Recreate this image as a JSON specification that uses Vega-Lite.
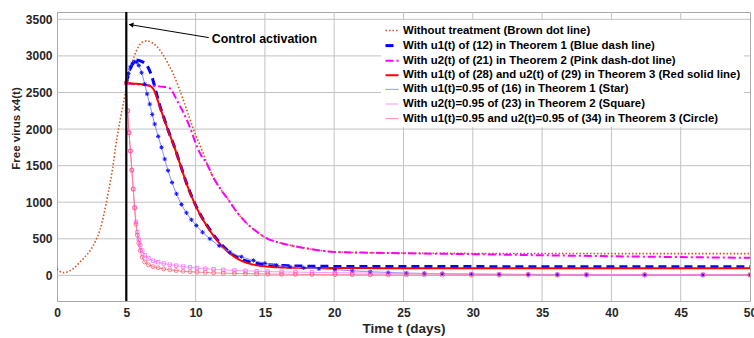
{
  "$schema": "https://vega.github.io/schema/vega-lite/v6.json",
  "width": 693,
  "height": 289,
  "autosize": {"type": "none"},
  "padding": {"left": 57, "top": 12, "right": 4, "bottom": 37},
  "background": "white",
  "data": {"values": [
    {"s":"Without treatment (Brown dot line)","t":0,"v":90},{"s":"Without treatment (Brown dot line)","t":0.2,"v":55},{"s":"Without treatment (Brown dot line)","t":0.45,"v":38},{"s":"Without treatment (Brown dot line)","t":0.8,"v":52},{"s":"Without treatment (Brown dot line)","t":1.2,"v":95},{"s":"Without treatment (Brown dot line)","t":1.6,"v":170},{"s":"Without treatment (Brown dot line)","t":2.0,"v":250},{"s":"Without treatment (Brown dot line)","t":2.4,"v":340},{"s":"Without treatment (Brown dot line)","t":2.8,"v":480},{"s":"Without treatment (Brown dot line)","t":3.1,"v":620},{"s":"Without treatment (Brown dot line)","t":3.4,"v":850},{"s":"Without treatment (Brown dot line)","t":3.7,"v":1130},{"s":"Without treatment (Brown dot line)","t":4.0,"v":1450},{"s":"Without treatment (Brown dot line)","t":4.3,"v":1850},{"s":"Without treatment (Brown dot line)","t":4.55,"v":2120},{"s":"Without treatment (Brown dot line)","t":4.8,"v":2360},{"s":"Without treatment (Brown dot line)","t":5.0,"v":2560},{"s":"Without treatment (Brown dot line)","t":5.2,"v":2740},{"s":"Without treatment (Brown dot line)","t":5.4,"v":2890},{"s":"Without treatment (Brown dot line)","t":5.7,"v":3060},{"s":"Without treatment (Brown dot line)","t":6.0,"v":3160},{"s":"Without treatment (Brown dot line)","t":6.3,"v":3200},{"s":"Without treatment (Brown dot line)","t":6.5,"v":3205},{"s":"Without treatment (Brown dot line)","t":6.8,"v":3185},{"s":"Without treatment (Brown dot line)","t":7.2,"v":3130},{"s":"Without treatment (Brown dot line)","t":7.6,"v":3030},{"s":"Without treatment (Brown dot line)","t":8.0,"v":2900},{"s":"Without treatment (Brown dot line)","t":8.4,"v":2750},{"s":"Without treatment (Brown dot line)","t":8.8,"v":2560},{"s":"Without treatment (Brown dot line)","t":9.2,"v":2350},{"s":"Without treatment (Brown dot line)","t":9.6,"v":2130},{"s":"Without treatment (Brown dot line)","t":10.0,"v":1920},{"s":"Without treatment (Brown dot line)","t":10.4,"v":1740},{"s":"Without treatment (Brown dot line)","t":10.8,"v":1540},{"s":"Without treatment (Brown dot line)","t":11.3,"v":1330},{"s":"Without treatment (Brown dot line)","t":11.8,"v":1180},{"s":"Without treatment (Brown dot line)","t":12.3,"v":1050},{"s":"Without treatment (Brown dot line)","t":13.0,"v":860},{"s":"Without treatment (Brown dot line)","t":13.7,"v":710},{"s":"Without treatment (Brown dot line)","t":14.4,"v":600},{"s":"Without treatment (Brown dot line)","t":15.1,"v":510},{"s":"Without treatment (Brown dot line)","t":16,"v":450},{"s":"Without treatment (Brown dot line)","t":17,"v":405},{"s":"Without treatment (Brown dot line)","t":18,"v":370},{"s":"Without treatment (Brown dot line)","t":19,"v":340},{"s":"Without treatment (Brown dot line)","t":20,"v":322},{"s":"Without treatment (Brown dot line)","t":22,"v":310},{"s":"Without treatment (Brown dot line)","t":25,"v":305},{"s":"Without treatment (Brown dot line)","t":30,"v":300},{"s":"Without treatment (Brown dot line)","t":35,"v":299},{"s":"Without treatment (Brown dot line)","t":40,"v":298},{"s":"Without treatment (Brown dot line)","t":45,"v":297},{"s":"Without treatment (Brown dot line)","t":50,"v":297},

    {"s":"With u1(t) of (12) in Theorem 1 (Blue dash line)","t":5.0,"v":2630},{"s":"With u1(t) of (12) in Theorem 1 (Blue dash line)","t":5.2,"v":2780},{"s":"With u1(t) of (12) in Theorem 1 (Blue dash line)","t":5.45,"v":2890},{"s":"With u1(t) of (12) in Theorem 1 (Blue dash line)","t":5.75,"v":2945},{"s":"With u1(t) of (12) in Theorem 1 (Blue dash line)","t":6.1,"v":2925},{"s":"With u1(t) of (12) in Theorem 1 (Blue dash line)","t":6.45,"v":2880},{"s":"With u1(t) of (12) in Theorem 1 (Blue dash line)","t":6.7,"v":2790},{"s":"With u1(t) of (12) in Theorem 1 (Blue dash line)","t":6.95,"v":2650},{"s":"With u1(t) of (12) in Theorem 1 (Blue dash line)","t":7.2,"v":2470},{"s":"With u1(t) of (12) in Theorem 1 (Blue dash line)","t":7.5,"v":2270},{"s":"With u1(t) of (12) in Theorem 1 (Blue dash line)","t":7.7,"v":2160},{"s":"With u1(t) of (12) in Theorem 1 (Blue dash line)","t":8.0,"v":1995},{"s":"With u1(t) of (12) in Theorem 1 (Blue dash line)","t":8.4,"v":1795},{"s":"With u1(t) of (12) in Theorem 1 (Blue dash line)","t":8.9,"v":1515},{"s":"With u1(t) of (12) in Theorem 1 (Blue dash line)","t":9.3,"v":1285},{"s":"With u1(t) of (12) in Theorem 1 (Blue dash line)","t":9.8,"v":1045},{"s":"With u1(t) of (12) in Theorem 1 (Blue dash line)","t":10.3,"v":845},{"s":"With u1(t) of (12) in Theorem 1 (Blue dash line)","t":10.8,"v":690},{"s":"With u1(t) of (12) in Theorem 1 (Blue dash line)","t":11.5,"v":502},{"s":"With u1(t) of (12) in Theorem 1 (Blue dash line)","t":12.2,"v":360},{"s":"With u1(t) of (12) in Theorem 1 (Blue dash line)","t":12.95,"v":252},{"s":"With u1(t) of (12) in Theorem 1 (Blue dash line)","t":13.9,"v":185},{"s":"With u1(t) of (12) in Theorem 1 (Blue dash line)","t":15.1,"v":148},{"s":"With u1(t) of (12) in Theorem 1 (Blue dash line)","t":16.6,"v":132},{"s":"With u1(t) of (12) in Theorem 1 (Blue dash line)","t":18,"v":126},{"s":"With u1(t) of (12) in Theorem 1 (Blue dash line)","t":20,"v":123},{"s":"With u1(t) of (12) in Theorem 1 (Blue dash line)","t":25,"v":121},{"s":"With u1(t) of (12) in Theorem 1 (Blue dash line)","t":30,"v":120},{"s":"With u1(t) of (12) in Theorem 1 (Blue dash line)","t":40,"v":119},{"s":"With u1(t) of (12) in Theorem 1 (Blue dash line)","t":50,"v":118},

    {"s":"With u2(t) of (21) in Theorem 2 (Pink dash-dot line)","t":5.0,"v":2625},{"s":"With u2(t) of (21) in Theorem 2 (Pink dash-dot line)","t":5.5,"v":2615},{"s":"With u2(t) of (21) in Theorem 2 (Pink dash-dot line)","t":6.0,"v":2608},{"s":"With u2(t) of (21) in Theorem 2 (Pink dash-dot line)","t":6.5,"v":2600},{"s":"With u2(t) of (21) in Theorem 2 (Pink dash-dot line)","t":7.0,"v":2590},{"s":"With u2(t) of (21) in Theorem 2 (Pink dash-dot line)","t":7.5,"v":2580},{"s":"With u2(t) of (21) in Theorem 2 (Pink dash-dot line)","t":8.0,"v":2565},{"s":"With u2(t) of (21) in Theorem 2 (Pink dash-dot line)","t":8.2,"v":2550},{"s":"With u2(t) of (21) in Theorem 2 (Pink dash-dot line)","t":8.5,"v":2450},{"s":"With u2(t) of (21) in Theorem 2 (Pink dash-dot line)","t":8.8,"v":2340},{"s":"With u2(t) of (21) in Theorem 2 (Pink dash-dot line)","t":9.0,"v":2270},{"s":"With u2(t) of (21) in Theorem 2 (Pink dash-dot line)","t":9.4,"v":2110},{"s":"With u2(t) of (21) in Theorem 2 (Pink dash-dot line)","t":9.7,"v":1970},{"s":"With u2(t) of (21) in Theorem 2 (Pink dash-dot line)","t":10.0,"v":1810},{"s":"With u2(t) of (21) in Theorem 2 (Pink dash-dot line)","t":10.4,"v":1640},{"s":"With u2(t) of (21) in Theorem 2 (Pink dash-dot line)","t":10.8,"v":1530},{"s":"With u2(t) of (21) in Theorem 2 (Pink dash-dot line)","t":11.3,"v":1330},{"s":"With u2(t) of (21) in Theorem 2 (Pink dash-dot line)","t":11.8,"v":1180},{"s":"With u2(t) of (21) in Theorem 2 (Pink dash-dot line)","t":12.3,"v":1050},{"s":"With u2(t) of (21) in Theorem 2 (Pink dash-dot line)","t":13.0,"v":860},{"s":"With u2(t) of (21) in Theorem 2 (Pink dash-dot line)","t":13.7,"v":710},{"s":"With u2(t) of (21) in Theorem 2 (Pink dash-dot line)","t":14.4,"v":600},{"s":"With u2(t) of (21) in Theorem 2 (Pink dash-dot line)","t":15.1,"v":510},{"s":"With u2(t) of (21) in Theorem 2 (Pink dash-dot line)","t":16,"v":450},{"s":"With u2(t) of (21) in Theorem 2 (Pink dash-dot line)","t":17,"v":405},{"s":"With u2(t) of (21) in Theorem 2 (Pink dash-dot line)","t":18,"v":370},{"s":"With u2(t) of (21) in Theorem 2 (Pink dash-dot line)","t":19,"v":340},{"s":"With u2(t) of (21) in Theorem 2 (Pink dash-dot line)","t":20,"v":320},{"s":"With u2(t) of (21) in Theorem 2 (Pink dash-dot line)","t":22,"v":312},{"s":"With u2(t) of (21) in Theorem 2 (Pink dash-dot line)","t":25,"v":303},{"s":"With u2(t) of (21) in Theorem 2 (Pink dash-dot line)","t":28,"v":295},{"s":"With u2(t) of (21) in Theorem 2 (Pink dash-dot line)","t":30,"v":290},{"s":"With u2(t) of (21) in Theorem 2 (Pink dash-dot line)","t":35,"v":275},{"s":"With u2(t) of (21) in Theorem 2 (Pink dash-dot line)","t":40,"v":262},{"s":"With u2(t) of (21) in Theorem 2 (Pink dash-dot line)","t":45,"v":250},{"s":"With u2(t) of (21) in Theorem 2 (Pink dash-dot line)","t":50,"v":241},

    {"s":"With u1(t) of (28) and u2(t) of (29) in Theorem 3 (Red solid line)","t":5.0,"v":2630},{"s":"With u1(t) of (28) and u2(t) of (29) in Theorem 3 (Red solid line)","t":5.5,"v":2622},{"s":"With u1(t) of (28) and u2(t) of (29) in Theorem 3 (Red solid line)","t":6.0,"v":2615},{"s":"With u1(t) of (28) and u2(t) of (29) in Theorem 3 (Red solid line)","t":6.5,"v":2600},{"s":"With u1(t) of (28) and u2(t) of (29) in Theorem 3 (Red solid line)","t":6.75,"v":2585},{"s":"With u1(t) of (28) and u2(t) of (29) in Theorem 3 (Red solid line)","t":7.0,"v":2530},{"s":"With u1(t) of (28) and u2(t) of (29) in Theorem 3 (Red solid line)","t":7.2,"v":2430},{"s":"With u1(t) of (28) and u2(t) of (29) in Theorem 3 (Red solid line)","t":7.5,"v":2260},{"s":"With u1(t) of (28) and u2(t) of (29) in Theorem 3 (Red solid line)","t":7.7,"v":2150},{"s":"With u1(t) of (28) and u2(t) of (29) in Theorem 3 (Red solid line)","t":8.0,"v":1990},{"s":"With u1(t) of (28) and u2(t) of (29) in Theorem 3 (Red solid line)","t":8.4,"v":1790},{"s":"With u1(t) of (28) and u2(t) of (29) in Theorem 3 (Red solid line)","t":8.9,"v":1510},{"s":"With u1(t) of (28) and u2(t) of (29) in Theorem 3 (Red solid line)","t":9.3,"v":1280},{"s":"With u1(t) of (28) and u2(t) of (29) in Theorem 3 (Red solid line)","t":9.8,"v":1040},{"s":"With u1(t) of (28) and u2(t) of (29) in Theorem 3 (Red solid line)","t":10.3,"v":840},{"s":"With u1(t) of (28) and u2(t) of (29) in Theorem 3 (Red solid line)","t":10.8,"v":680},{"s":"With u1(t) of (28) and u2(t) of (29) in Theorem 3 (Red solid line)","t":11.5,"v":490},{"s":"With u1(t) of (28) and u2(t) of (29) in Theorem 3 (Red solid line)","t":12.2,"v":345},{"s":"With u1(t) of (28) and u2(t) of (29) in Theorem 3 (Red solid line)","t":12.95,"v":235},{"s":"With u1(t) of (28) and u2(t) of (29) in Theorem 3 (Red solid line)","t":13.9,"v":160},{"s":"With u1(t) of (28) and u2(t) of (29) in Theorem 3 (Red solid line)","t":15.1,"v":122},{"s":"With u1(t) of (28) and u2(t) of (29) in Theorem 3 (Red solid line)","t":16.6,"v":106},{"s":"With u1(t) of (28) and u2(t) of (29) in Theorem 3 (Red solid line)","t":18,"v":102},{"s":"With u1(t) of (28) and u2(t) of (29) in Theorem 3 (Red solid line)","t":20,"v":100},{"s":"With u1(t) of (28) and u2(t) of (29) in Theorem 3 (Red solid line)","t":25,"v":99},{"s":"With u1(t) of (28) and u2(t) of (29) in Theorem 3 (Red solid line)","t":30,"v":98},{"s":"With u1(t) of (28) and u2(t) of (29) in Theorem 3 (Red solid line)","t":40,"v":98},{"s":"With u1(t) of (28) and u2(t) of (29) in Theorem 3 (Red solid line)","t":50,"v":98},

    {"s":"With u1(t)=0.95 of (16) in Theorem 1 (Star)","t":5.0,"v":2630},{"s":"With u1(t)=0.95 of (16) in Theorem 1 (Star)","t":5.15,"v":2760},{"s":"With u1(t)=0.95 of (16) in Theorem 1 (Star)","t":5.3,"v":2850},{"s":"With u1(t)=0.95 of (16) in Theorem 1 (Star)","t":5.45,"v":2900},{"s":"With u1(t)=0.95 of (16) in Theorem 1 (Star)","t":5.6,"v":2920},{"s":"With u1(t)=0.95 of (16) in Theorem 1 (Star)","t":5.75,"v":2915},{"s":"With u1(t)=0.95 of (16) in Theorem 1 (Star)","t":5.9,"v":2870},{"s":"With u1(t)=0.95 of (16) in Theorem 1 (Star)","t":6.1,"v":2770},{"s":"With u1(t)=0.95 of (16) in Theorem 1 (Star)","t":6.33,"v":2614},{"s":"With u1(t)=0.95 of (16) in Theorem 1 (Star)","t":6.5,"v":2480},{"s":"With u1(t)=0.95 of (16) in Theorem 1 (Star)","t":6.69,"v":2341},{"s":"With u1(t)=0.95 of (16) in Theorem 1 (Star)","t":6.87,"v":2200},{"s":"With u1(t)=0.95 of (16) in Theorem 1 (Star)","t":7.05,"v":2068},{"s":"With u1(t)=0.95 of (16) in Theorem 1 (Star)","t":7.3,"v":1900},{"s":"With u1(t)=0.95 of (16) in Theorem 1 (Star)","t":7.54,"v":1750},{"s":"With u1(t)=0.95 of (16) in Theorem 1 (Star)","t":7.77,"v":1590},{"s":"With u1(t)=0.95 of (16) in Theorem 1 (Star)","t":8.01,"v":1432},{"s":"With u1(t)=0.95 of (16) in Theorem 1 (Star)","t":8.3,"v":1270},{"s":"With u1(t)=0.95 of (16) in Theorem 1 (Star)","t":8.62,"v":1114},{"s":"With u1(t)=0.95 of (16) in Theorem 1 (Star)","t":8.98,"v":970},{"s":"With u1(t)=0.95 of (16) in Theorem 1 (Star)","t":9.34,"v":855},{"s":"With u1(t)=0.95 of (16) in Theorem 1 (Star)","t":9.7,"v":760},{"s":"With u1(t)=0.95 of (16) in Theorem 1 (Star)","t":10.05,"v":682},{"s":"With u1(t)=0.95 of (16) in Theorem 1 (Star)","t":10.5,"v":590},{"s":"With u1(t)=0.95 of (16) in Theorem 1 (Star)","t":11.03,"v":500},{"s":"With u1(t)=0.95 of (16) in Theorem 1 (Star)","t":11.7,"v":405},{"s":"With u1(t)=0.95 of (16) in Theorem 1 (Star)","t":12.47,"v":318},{"s":"With u1(t)=0.95 of (16) in Theorem 1 (Star)","t":13.3,"v":255},{"s":"With u1(t)=0.95 of (16) in Theorem 1 (Star)","t":14.17,"v":205},{"s":"With u1(t)=0.95 of (16) in Theorem 1 (Star)","t":15.0,"v":165},{"s":"With u1(t)=0.95 of (16) in Theorem 1 (Star)","t":15.85,"v":138},{"s":"With u1(t)=0.95 of (16) in Theorem 1 (Star)","t":16.8,"v":118},{"s":"With u1(t)=0.95 of (16) in Theorem 1 (Star)","t":17.8,"v":103},{"s":"With u1(t)=0.95 of (16) in Theorem 1 (Star)","t":18.9,"v":90},{"s":"With u1(t)=0.95 of (16) in Theorem 1 (Star)","t":20.05,"v":78},{"s":"With u1(t)=0.95 of (16) in Theorem 1 (Star)","t":21.3,"v":62},{"s":"With u1(t)=0.95 of (16) in Theorem 1 (Star)","t":22.6,"v":50},{"s":"With u1(t)=0.95 of (16) in Theorem 1 (Star)","t":23.9,"v":40},{"s":"With u1(t)=0.95 of (16) in Theorem 1 (Star)","t":25.2,"v":32},{"s":"With u1(t)=0.95 of (16) in Theorem 1 (Star)","t":26.5,"v":27},{"s":"With u1(t)=0.95 of (16) in Theorem 1 (Star)","t":27.8,"v":23},{"s":"With u1(t)=0.95 of (16) in Theorem 1 (Star)","t":29.9,"v":18},{"s":"With u1(t)=0.95 of (16) in Theorem 1 (Star)","t":31.9,"v":14},{"s":"With u1(t)=0.95 of (16) in Theorem 1 (Star)","t":34,"v":12},{"s":"With u1(t)=0.95 of (16) in Theorem 1 (Star)","t":36.1,"v":10},{"s":"With u1(t)=0.95 of (16) in Theorem 1 (Star)","t":38.2,"v":9},{"s":"With u1(t)=0.95 of (16) in Theorem 1 (Star)","t":42.4,"v":8},{"s":"With u1(t)=0.95 of (16) in Theorem 1 (Star)","t":46.6,"v":8},{"s":"With u1(t)=0.95 of (16) in Theorem 1 (Star)","t":50,"v":8},

    {"s":"With u2(t)=0.95 of (23) in Theorem 2 (Square)","t":5.0,"v":2630},{"s":"With u2(t)=0.95 of (23) in Theorem 2 (Square)","t":5.1,"v":2250},{"s":"With u2(t)=0.95 of (23) in Theorem 2 (Square)","t":5.2,"v":1950},{"s":"With u2(t)=0.95 of (23) in Theorem 2 (Square)","t":5.3,"v":1700},{"s":"With u2(t)=0.95 of (23) in Theorem 2 (Square)","t":5.4,"v":1440},{"s":"With u2(t)=0.95 of (23) in Theorem 2 (Square)","t":5.5,"v":1180},{"s":"With u2(t)=0.95 of (23) in Theorem 2 (Square)","t":5.6,"v":930},{"s":"With u2(t)=0.95 of (23) in Theorem 2 (Square)","t":5.7,"v":730},{"s":"With u2(t)=0.95 of (23) in Theorem 2 (Square)","t":5.8,"v":590},{"s":"With u2(t)=0.95 of (23) in Theorem 2 (Square)","t":5.9,"v":490},{"s":"With u2(t)=0.95 of (23) in Theorem 2 (Square)","t":6.0,"v":415},{"s":"With u2(t)=0.95 of (23) in Theorem 2 (Square)","t":6.15,"v":340},{"s":"With u2(t)=0.95 of (23) in Theorem 2 (Square)","t":6.33,"v":275},{"s":"With u2(t)=0.95 of (23) in Theorem 2 (Square)","t":6.6,"v":232},{"s":"With u2(t)=0.95 of (23) in Theorem 2 (Square)","t":6.93,"v":200},{"s":"With u2(t)=0.95 of (23) in Theorem 2 (Square)","t":7.3,"v":180},{"s":"With u2(t)=0.95 of (23) in Theorem 2 (Square)","t":7.7,"v":162},{"s":"With u2(t)=0.95 of (23) in Theorem 2 (Square)","t":8.14,"v":146},{"s":"With u2(t)=0.95 of (23) in Theorem 2 (Square)","t":8.6,"v":133},{"s":"With u2(t)=0.95 of (23) in Theorem 2 (Square)","t":9.1,"v":121},{"s":"With u2(t)=0.95 of (23) in Theorem 2 (Square)","t":9.6,"v":110},{"s":"With u2(t)=0.95 of (23) in Theorem 2 (Square)","t":10.1,"v":101},{"s":"With u2(t)=0.95 of (23) in Theorem 2 (Square)","t":10.7,"v":92},{"s":"With u2(t)=0.95 of (23) in Theorem 2 (Square)","t":11.3,"v":84},{"s":"With u2(t)=0.95 of (23) in Theorem 2 (Square)","t":12.0,"v":76},{"s":"With u2(t)=0.95 of (23) in Theorem 2 (Square)","t":12.8,"v":68},{"s":"With u2(t)=0.95 of (23) in Theorem 2 (Square)","t":13.6,"v":62},{"s":"With u2(t)=0.95 of (23) in Theorem 2 (Square)","t":14.4,"v":57},{"s":"With u2(t)=0.95 of (23) in Theorem 2 (Square)","t":15.2,"v":52},{"s":"With u2(t)=0.95 of (23) in Theorem 2 (Square)","t":16.2,"v":48},{"s":"With u2(t)=0.95 of (23) in Theorem 2 (Square)","t":17.2,"v":44},{"s":"With u2(t)=0.95 of (23) in Theorem 2 (Square)","t":18.4,"v":41},{"s":"With u2(t)=0.95 of (23) in Theorem 2 (Square)","t":20.05,"v":37},{"s":"With u2(t)=0.95 of (23) in Theorem 2 (Square)","t":21.3,"v":34},{"s":"With u2(t)=0.95 of (23) in Theorem 2 (Square)","t":22.6,"v":31},{"s":"With u2(t)=0.95 of (23) in Theorem 2 (Square)","t":23.9,"v":28},{"s":"With u2(t)=0.95 of (23) in Theorem 2 (Square)","t":25.2,"v":26},{"s":"With u2(t)=0.95 of (23) in Theorem 2 (Square)","t":26.5,"v":24},{"s":"With u2(t)=0.95 of (23) in Theorem 2 (Square)","t":27.8,"v":22},{"s":"With u2(t)=0.95 of (23) in Theorem 2 (Square)","t":29.9,"v":19},{"s":"With u2(t)=0.95 of (23) in Theorem 2 (Square)","t":31.9,"v":17},{"s":"With u2(t)=0.95 of (23) in Theorem 2 (Square)","t":34,"v":15},{"s":"With u2(t)=0.95 of (23) in Theorem 2 (Square)","t":36.1,"v":14},{"s":"With u2(t)=0.95 of (23) in Theorem 2 (Square)","t":38.2,"v":13},{"s":"With u2(t)=0.95 of (23) in Theorem 2 (Square)","t":42.4,"v":12},{"s":"With u2(t)=0.95 of (23) in Theorem 2 (Square)","t":46.6,"v":11},{"s":"With u2(t)=0.95 of (23) in Theorem 2 (Square)","t":50,"v":10},

    {"s":"With u1(t)=0.95 and u2(t)=0.95 of (34) in Theorem 3 (Circle)","t":5.0,"v":2630},{"s":"With u1(t)=0.95 and u2(t)=0.95 of (34) in Theorem 3 (Circle)","t":5.1,"v":2250},{"s":"With u1(t)=0.95 and u2(t)=0.95 of (34) in Theorem 3 (Circle)","t":5.2,"v":1950},{"s":"With u1(t)=0.95 and u2(t)=0.95 of (34) in Theorem 3 (Circle)","t":5.3,"v":1700},{"s":"With u1(t)=0.95 and u2(t)=0.95 of (34) in Theorem 3 (Circle)","t":5.4,"v":1440},{"s":"With u1(t)=0.95 and u2(t)=0.95 of (34) in Theorem 3 (Circle)","t":5.5,"v":1180},{"s":"With u1(t)=0.95 and u2(t)=0.95 of (34) in Theorem 3 (Circle)","t":5.6,"v":920},{"s":"With u1(t)=0.95 and u2(t)=0.95 of (34) in Theorem 3 (Circle)","t":5.7,"v":700},{"s":"With u1(t)=0.95 and u2(t)=0.95 of (34) in Theorem 3 (Circle)","t":5.8,"v":550},{"s":"With u1(t)=0.95 and u2(t)=0.95 of (34) in Theorem 3 (Circle)","t":5.9,"v":440},{"s":"With u1(t)=0.95 and u2(t)=0.95 of (34) in Theorem 3 (Circle)","t":6.0,"v":340},{"s":"With u1(t)=0.95 and u2(t)=0.95 of (34) in Theorem 3 (Circle)","t":6.15,"v":250},{"s":"With u1(t)=0.95 and u2(t)=0.95 of (34) in Theorem 3 (Circle)","t":6.33,"v":185},{"s":"With u1(t)=0.95 and u2(t)=0.95 of (34) in Theorem 3 (Circle)","t":6.6,"v":145},{"s":"With u1(t)=0.95 and u2(t)=0.95 of (34) in Theorem 3 (Circle)","t":6.93,"v":120},{"s":"With u1(t)=0.95 and u2(t)=0.95 of (34) in Theorem 3 (Circle)","t":7.3,"v":103},{"s":"With u1(t)=0.95 and u2(t)=0.95 of (34) in Theorem 3 (Circle)","t":7.7,"v":89},{"s":"With u1(t)=0.95 and u2(t)=0.95 of (34) in Theorem 3 (Circle)","t":8.14,"v":76},{"s":"With u1(t)=0.95 and u2(t)=0.95 of (34) in Theorem 3 (Circle)","t":8.6,"v":66},{"s":"With u1(t)=0.95 and u2(t)=0.95 of (34) in Theorem 3 (Circle)","t":9.1,"v":57},{"s":"With u1(t)=0.95 and u2(t)=0.95 of (34) in Theorem 3 (Circle)","t":9.6,"v":50},{"s":"With u1(t)=0.95 and u2(t)=0.95 of (34) in Theorem 3 (Circle)","t":10.1,"v":45},{"s":"With u1(t)=0.95 and u2(t)=0.95 of (34) in Theorem 3 (Circle)","t":10.7,"v":40},{"s":"With u1(t)=0.95 and u2(t)=0.95 of (34) in Theorem 3 (Circle)","t":11.3,"v":35},{"s":"With u1(t)=0.95 and u2(t)=0.95 of (34) in Theorem 3 (Circle)","t":12.0,"v":31},{"s":"With u1(t)=0.95 and u2(t)=0.95 of (34) in Theorem 3 (Circle)","t":12.8,"v":27},{"s":"With u1(t)=0.95 and u2(t)=0.95 of (34) in Theorem 3 (Circle)","t":13.6,"v":24},{"s":"With u1(t)=0.95 and u2(t)=0.95 of (34) in Theorem 3 (Circle)","t":14.4,"v":21},{"s":"With u1(t)=0.95 and u2(t)=0.95 of (34) in Theorem 3 (Circle)","t":15.2,"v":18},{"s":"With u1(t)=0.95 and u2(t)=0.95 of (34) in Theorem 3 (Circle)","t":16.2,"v":16},{"s":"With u1(t)=0.95 and u2(t)=0.95 of (34) in Theorem 3 (Circle)","t":17.2,"v":14},{"s":"With u1(t)=0.95 and u2(t)=0.95 of (34) in Theorem 3 (Circle)","t":18.4,"v":12},{"s":"With u1(t)=0.95 and u2(t)=0.95 of (34) in Theorem 3 (Circle)","t":20.05,"v":10},{"s":"With u1(t)=0.95 and u2(t)=0.95 of (34) in Theorem 3 (Circle)","t":21.3,"v":9},{"s":"With u1(t)=0.95 and u2(t)=0.95 of (34) in Theorem 3 (Circle)","t":22.6,"v":8},{"s":"With u1(t)=0.95 and u2(t)=0.95 of (34) in Theorem 3 (Circle)","t":23.9,"v":7},{"s":"With u1(t)=0.95 and u2(t)=0.95 of (34) in Theorem 3 (Circle)","t":25.2,"v":6},{"s":"With u1(t)=0.95 and u2(t)=0.95 of (34) in Theorem 3 (Circle)","t":26.5,"v":6},{"s":"With u1(t)=0.95 and u2(t)=0.95 of (34) in Theorem 3 (Circle)","t":27.8,"v":5},{"s":"With u1(t)=0.95 and u2(t)=0.95 of (34) in Theorem 3 (Circle)","t":29.9,"v":5},{"s":"With u1(t)=0.95 and u2(t)=0.95 of (34) in Theorem 3 (Circle)","t":31.9,"v":4},{"s":"With u1(t)=0.95 and u2(t)=0.95 of (34) in Theorem 3 (Circle)","t":34,"v":4},{"s":"With u1(t)=0.95 and u2(t)=0.95 of (34) in Theorem 3 (Circle)","t":36.1,"v":4},{"s":"With u1(t)=0.95 and u2(t)=0.95 of (34) in Theorem 3 (Circle)","t":38.2,"v":3},{"s":"With u1(t)=0.95 and u2(t)=0.95 of (34) in Theorem 3 (Circle)","t":42.4,"v":3},{"s":"With u1(t)=0.95 and u2(t)=0.95 of (34) in Theorem 3 (Circle)","t":46.6,"v":3},{"s":"With u1(t)=0.95 and u2(t)=0.95 of (34) in Theorem 3 (Circle)","t":50,"v":3}
  ]},
  "encoding": {
    "x": {"field": "t", "type": "quantitative", "title": "Time t (days)",
          "scale": {"domain": [0, 50], "nice": false, "zero": false},
          "axis": {"values": [0,5,10,15,20,25,30,35,40,45,50], "labelFlush": false, "labelPadding": 6, "titlePadding": 3, "grid": false, "ticks": false}},
    "y": {"field": "v", "type": "quantitative", "title": "Free virus x4(t)",
          "scale": {"domain": [-350, 3600], "nice": false, "zero": false},
          "axis": {"values": [0,500,1000,1500,2000,2500,3000,3500], "format": "d", "labelPadding": 5, "grid": false, "ticks": false,
                   "titleFontSize": 11.5, "titleX": -41, "titleY": 116, "titleAngle": -90, "titleAlign": "center", "titleBaseline": "middle"}}
  },
  "layer": [
    {
      "data": {"values": [{"t": 5},{"t": 10},{"t": 15},{"t": 20},{"t": 25},{"t": 30},{"t": 35},{"t": 40},{"t": 45}]},
      "mark": {"type": "rule", "color": "#c2c2c2", "strokeWidth": 1},
      "encoding": {"x": {"field": "t", "type": "quantitative"}, "y": null}
    },
    {
      "data": {"values": [{"v": 0},{"v": 500},{"v": 1000},{"v": 1500},{"v": 2000},{"v": 2500},{"v": 3000},{"v": 3500}]},
      "mark": {"type": "rule", "color": "#c2c2c2", "strokeWidth": 1},
      "encoding": {"y": {"field": "v", "type": "quantitative"}, "x": null}
    },
    {
      "mark": {"type": "line", "clip": true, "interpolate": "monotone"},
      "encoding": {
        "color": {"field": "s", "type": "nominal", "legend": {"title": null},
          "scale": {"domain": ["Without treatment (Brown dot line)","With u1(t) of (12) in Theorem 1 (Blue dash line)","With u2(t) of (21) in Theorem 2 (Pink dash-dot line)","With u1(t) of (28) and u2(t) of (29) in Theorem 3 (Red solid line)","With u1(t)=0.95 of (16) in Theorem 1 (Star)","With u2(t)=0.95 of (23) in Theorem 2 (Square)","With u1(t)=0.95 and u2(t)=0.95 of (34) in Theorem 3 (Circle)"],
                    "range": ["#D95319","#0000FF","#FF00FF","#FF0000","#7b7bff","#ff88ff","#ff6f80"]}},
        "strokeDash": {"field": "s", "type": "nominal", "legend": {"title": null},
          "scale": {"domain": ["Without treatment (Brown dot line)","With u1(t) of (12) in Theorem 1 (Blue dash line)","With u2(t) of (21) in Theorem 2 (Pink dash-dot line)","With u1(t) of (28) and u2(t) of (29) in Theorem 3 (Red solid line)","With u1(t)=0.95 of (16) in Theorem 1 (Star)","With u2(t)=0.95 of (23) in Theorem 2 (Square)","With u1(t)=0.95 and u2(t)=0.95 of (34) in Theorem 3 (Circle)"],
                    "range": [[1.5,2],[8,5],[8,3,2,3],[1,0],[1,0],[1,0],[1,0]]}},
        "strokeWidth": {"field": "s", "type": "nominal", "legend": {"title": null},
          "scale": {"type": "ordinal", "domain": ["Without treatment (Brown dot line)","With u1(t) of (12) in Theorem 1 (Blue dash line)","With u2(t) of (21) in Theorem 2 (Pink dash-dot line)","With u1(t) of (28) and u2(t) of (29) in Theorem 3 (Red solid line)","With u1(t)=0.95 of (16) in Theorem 1 (Star)","With u2(t)=0.95 of (23) in Theorem 2 (Square)","With u1(t)=0.95 and u2(t)=0.95 of (34) in Theorem 3 (Circle)"],
                    "range": [1.6,3,2,2,1,1,1]}}
      }
    },
    {
      "transform": [{"filter": "datum.s === 'With u1(t)=0.95 of (16) in Theorem 1 (Star)'"}],
      "mark": {"type": "point", "clip": true, "shape": "M-1,0L1,0M0,-1L0,1M-0.7,-0.7L0.7,0.7M-0.7,0.7L0.7,-0.7", "filled": false, "stroke": "#0000ff", "strokeWidth": 1, "size": 18, "opacity": 0.9}
    },
    {
      "transform": [{"filter": "datum.s === 'With u2(t)=0.95 of (23) in Theorem 2 (Square)'"}],
      "mark": {"type": "point", "clip": true, "shape": "square", "filled": false, "stroke": "#ff55ff", "strokeWidth": 0.8, "size": 12, "opacity": 0.9}
    },
    {
      "transform": [{"filter": "datum.s === 'With u1(t)=0.95 and u2(t)=0.95 of (34) in Theorem 3 (Circle)'"}],
      "mark": {"type": "point", "clip": true, "shape": "circle", "filled": false, "stroke": "#ff5068", "strokeWidth": 0.8, "size": 16, "opacity": 0.9}
    },
    {
      "data": {"values": [{"t": 5}]},
      "mark": {"type": "rule", "color": "black", "strokeWidth": 2.2},
      "encoding": {"x": {"field": "t", "type": "quantitative"}, "y": null}
    },
    {
      "data": {"values": [{"t": 5.2, "v": 3430, "t2": 10.95, "v2": 3250}]},
      "mark": {"type": "rule", "color": "black", "strokeWidth": 1},
      "encoding": {"x": {"field": "t", "type": "quantitative"}, "y": {"field": "v", "type": "quantitative"}, "x2": {"field": "t2"}, "y2": {"field": "v2"}}
    },
    {
      "data": {"values": [{"t": 5.35, "v": 3425}]},
      "mark": {"type": "point", "shape": "triangle-left", "filled": true, "color": "black", "size": 28, "angle": 9, "opacity": 1},
      "encoding": {"x": {"field": "t", "type": "quantitative"}, "y": {"field": "v", "type": "quantitative"}}
    },
    {
      "data": {"values": [{"t": 11.16, "v": 3227, "label": "Control activation"}]},
      "mark": {"type": "text", "align": "left", "baseline": "middle", "font": "Liberation Sans", "fontWeight": "bold", "fontSize": 12.4, "color": "black"},
      "encoding": {"x": {"field": "t", "type": "quantitative"}, "y": {"field": "v", "type": "quantitative"}, "text": {"field": "label"}}
    }
  ],
  "config": {
    "view": {"stroke": "#a8a8a8", "strokeWidth": 1},
    "axis": {"labelFont": "Liberation Sans", "labelFontWeight": "bold", "labelFontSize": 12, "labelColor": "#262626",
             "titleFont": "Liberation Sans", "titleFontWeight": "bold", "titleFontSize": 13.5, "titleColor": "#262626",
             "domainColor": "#a8a8a8"},
    "legend": {"orient": "none", "legendX": 324, "legendY": 8, "fillColor": "white", "padding": 3,
               "labelFont": "Liberation Sans", "labelFontWeight": "bold", "labelFontSize": 11.4, "labelColor": "black",
               "labelLimit": 500, "symbolType": "stroke", "symbolSize": 169, "rowPadding": 1.6, "labelOffset": 3}
  }
}
